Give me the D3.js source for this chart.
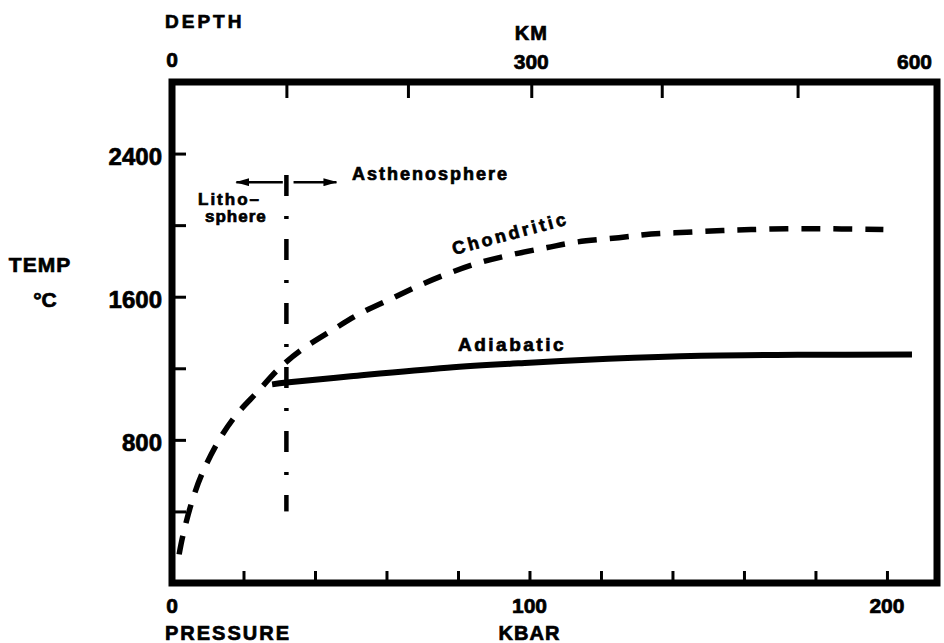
<!DOCTYPE html>
<html>
<head>
<meta charset="utf-8">
<script src="https://cdn.jsdelivr.net/npm/d3@7"></script>
<style>
  body { margin: 0; background: #fff; }
  svg text { font-family: "Liberation Sans", Arial, sans-serif; font-weight: bold; fill: #000; stroke: #000; stroke-width: 0.7px; }
</style>
</head>
<body>
<svg id="chart" width="944" height="643"></svg>
<script>
// Temperature (°C) against pressure (kbar) in the upper mantle

// Chondritic geotherm
const chondriticP = [2, 3, 5.5, 8.5, 13.5, 18, 24, 30, 36, 45, 53, 62, 70, 78, 86, 95, 105, 113, 125, 134, 144, 154, 162, 172, 181, 190, 199];
const chondriticT = [160, 260, 450, 615, 810, 940, 1070, 1200, 1300, 1415, 1510, 1595, 1670, 1735, 1790, 1835, 1875, 1905, 1930, 1950, 1960, 1970, 1975, 1980, 1980, 1978, 1975];

// Adiabat
const adiabaticP = [28, 32, 50, 77, 100, 122, 148, 175, 207];
const adiabaticT = [1110, 1120, 1155, 1203, 1231, 1253, 1270, 1275, 1277];

// Lithosphere / asthenosphere boundary
const boundaryP = 32;
const boundaryT = [400, 2280];
const arrowT = 2240;
const arrowLeftP = [31, 18];
const arrowRightP = [34, 46];

// Axes
const pressureDomain = [0, 214];
const tempDomain = [0, 2800];
const pressureTicks = [20, 40, 60, 80, 100, 120, 140, 160, 180, 200];
const pressureLabels = [0, 100, 200];
const tempTicks = [400, 800, 1200, 1600, 2000, 2400];
const tempLabels = [800, 1600, 2400];
const depthKm = [0, 100, 200, 300, 400, 500, 600];
const depthPressure = [0, 32, 66, 100.5, 137, 175, 214];
const depthLabels = [0, 300, 600];

const svg = d3.select("#chart");
const x = d3.scaleLinear().domain(pressureDomain).range([172, 937]);
const y = d3.scaleLinear().domain(tempDomain).range([583, 82]);

// tick marks (pointing inward)
function styleAxis(g) {
  g.select(".domain").remove();
  g.selectAll(".tick line").attr("stroke", "#000").attr("stroke-width", 3);
  g.selectAll(".tick text").remove();
}
svg.append("g").attr("transform", `translate(0,${y(0)})`)
  .call(d3.axisBottom(x).tickValues(pressureTicks).tickSize(-12).tickFormat(""))
  .call(styleAxis);
svg.append("g").attr("transform", `translate(${x(0)},0)`)
  .call(d3.axisLeft(y).tickValues(tempTicks).tickSize(-14).tickFormat(""))
  .call(styleAxis);
svg.append("g").attr("transform", `translate(0,${y(2800)})`)
  .call(d3.axisTop(x).tickValues(depthPressure.slice(1, -1)).tickSize(-16).tickFormat(""))
  .call(styleAxis);

// frame
svg.append("rect")
  .attr("x", x(0)).attr("y", y(2800))
  .attr("width", x(214) - x(0)).attr("height", y(0) - y(2800))
  .attr("fill", "none").attr("stroke", "#000").attr("stroke-width", 7);

// bottom labels
svg.selectAll(".plab").data(pressureLabels).join("text")
  .attr("x", d => x(d)).attr("y", 613)
  .attr("text-anchor", "middle").attr("font-size", 21)
  .text(d => d);
svg.append("text").attr("x", 165).attr("y", 640).attr("font-size", 20)
  .attr("letter-spacing", 2).text("PRESSURE");
svg.append("text").attr("x", x(100)).attr("y", 640).attr("font-size", 20)
  .attr("text-anchor", "middle").attr("letter-spacing", 1).text("KBAR");

// left labels
svg.selectAll(".tlab").data(tempLabels).join("text")
  .attr("x", 162).attr("y", d => y(d) + 11)
  .attr("text-anchor", "end").attr("font-size", 24)
  .text(d => d);
svg.append("text").attr("x", 40).attr("y", 272).attr("font-size", 21)
  .attr("text-anchor", "middle").attr("letter-spacing", 1).text("TEMP");
svg.append("text").attr("x", 45).attr("y", 307).attr("font-size", 21)
  .attr("text-anchor", "middle").text("°C");

// top labels (depth)
svg.append("text").attr("x", 165).attr("y", 28).attr("font-size", 19)
  .attr("letter-spacing", 3).text("DEPTH");
svg.append("text").attr("x", x(100.5)).attr("y", 40).attr("font-size", 20)
  .attr("text-anchor", "middle").attr("letter-spacing", 1).text("KM");
svg.selectAll(".dlab").data(depthLabels).join("text")
  .attr("x", (d, i) => {
    const p = depthPressure[depthKm.indexOf(d)];
    return i === depthLabels.length - 1 ? x(p) - 5 : x(p);
  })
  .attr("y", (d, i) => i === 0 ? 67 : 69)
  .attr("text-anchor", (d, i) => i === depthLabels.length - 1 ? "end" : "middle")
  .attr("font-size", 21)
  .text(d => d);

// boundary (dash-dot)
svg.append("line")
  .attr("x1", x(boundaryP)).attr("x2", x(boundaryP))
  .attr("y1", y(boundaryT[1])).attr("y2", y(boundaryT[0]))
  .attr("stroke", "#000").attr("stroke-width", 4.5)
  .attr("stroke-dasharray", "21,20,3,20");

// arrows
const defs = svg.append("defs");
defs.append("marker").attr("id", "arr").attr("viewBox", "0 0 14 8")
  .attr("refX", 13).attr("refY", 4).attr("markerWidth", 14).attr("markerHeight", 8)
  .attr("markerUnits", "userSpaceOnUse").attr("orient", "auto")
  .append("path").attr("d", "M0,0L14,4L0,8Z").attr("fill", "#000");
[arrowLeftP, arrowRightP].forEach(p => {
  svg.append("line")
    .attr("x1", x(p[0])).attr("x2", x(p[1]))
    .attr("y1", y(arrowT)).attr("y2", y(arrowT))
    .attr("stroke", "#000").attr("stroke-width", 2.5)
    .attr("marker-end", "url(#arr)");
});

// curves
const line = d3.line().x(d => x(d[0])).y(d => y(d[1])).curve(d3.curveCatmullRom.alpha(0.5));
svg.append("path")
  .datum(chondriticP.map((p, i) => [p, chondriticT[i]]))
  .attr("d", line).attr("fill", "none").attr("stroke", "#000")
  .attr("stroke-width", 5.5).attr("stroke-dasharray", "19,13");
svg.append("path")
  .datum(adiabaticP.map((p, i) => [p, adiabaticT[i]]))
  .attr("d", line).attr("fill", "none").attr("stroke", "#000")
  .attr("stroke-width", 6);

// annotations
svg.append("text").attr("x", 352).attr("y", 180).attr("font-size", 18)
  .attr("letter-spacing", 2).text("Asthenosphere");
svg.append("text").attr("x", 198).attr("y", 205).attr("font-size", 17)
  .attr("letter-spacing", 2).text("Litho–");
svg.append("text").attr("x", 205).attr("y", 222).attr("font-size", 17)
  .attr("letter-spacing", 1).text("sphere");
svg.append("text").attr("x", 458).attr("y", 351).attr("font-size", 19)
  .attr("letter-spacing", 2.5).text("Adiabatic");
svg.append("text").attr("transform", "translate(454,255) rotate(-15)")
  .attr("font-size", 18).attr("letter-spacing", 3).text("Chondritic");
</script>
</body>
</html>
